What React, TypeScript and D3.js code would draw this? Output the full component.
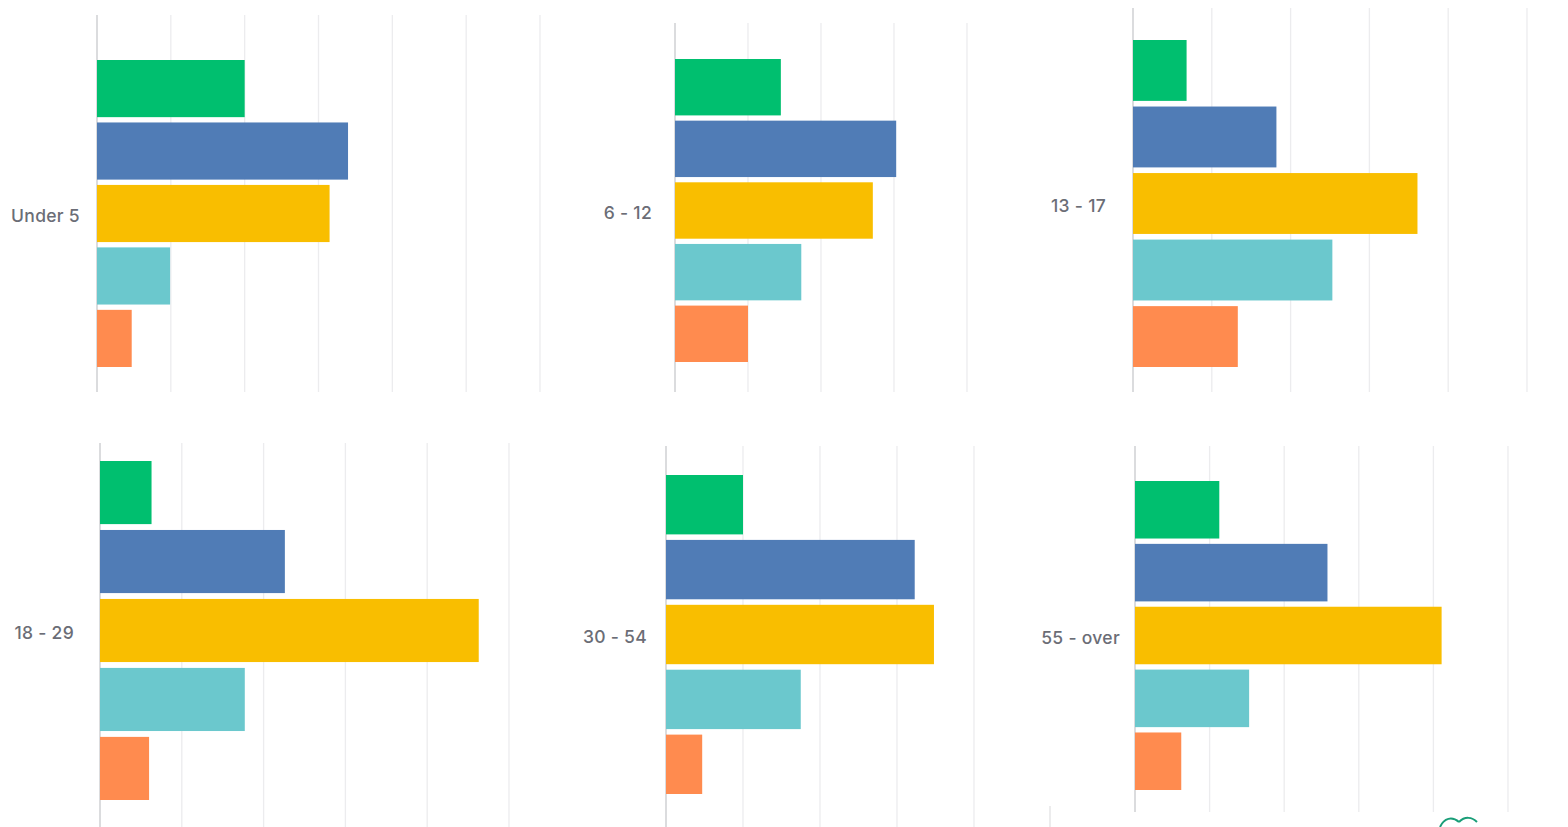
import React from "react";
import * as d3 from "d3";

// ---- data (percent of respondents) ----
const ageGroups = ["Under 5", "6 - 12", "13 - 17", "18 - 29", "30 - 54", "55 - over"];
const seriesNames = ["A", "B", "C", "D", "E"];
const seriesColors = ["#00BF6F", "#507CB6", "#F9BE00", "#6BC8CD", "#FF8B4F"];

const under5 = [20.0, 34.0, 31.5, 9.9, 4.7];
const age6to12 = [14.5, 30.3, 27.1, 17.3, 10.0];
const age13to17 = [6.8, 18.2, 36.1, 25.3, 13.3];
const age18to29 = [6.3, 22.6, 46.3, 17.7, 6.0];
const age30to54 = [10.0, 32.3, 34.8, 17.5, 4.7];
const age55over = [11.3, 25.8, 41.1, 15.3, 6.2];

const panelValues = [under5, age6to12, age13to17, age18to29, age30to54, age55over];
const panelMax = [60, 40, 50, 50, 40, 50];
const tickStep = 10;

// ---- layout (pixels) ----
const layout = [
  { x0: 97, x1: 540, gTop: 15, gBot: 392, bTop: 60, bBot: 367, lab: 17 },
  { x0: 675, x1: 967, gTop: 23, gBot: 392, bTop: 59, bBot: 362, lab: 23 },
  { x0: 1133, x1: 1527, gTop: 8, gBot: 392, bTop: 40, bBot: 367, lab: 27 },
  { x0: 100, x1: 509, gTop: 443, gBot: 827, bTop: 461, bBot: 800, lab: 26 },
  { x0: 666, x1: 974, gTop: 446, gBot: 827, bTop: 475, bBot: 794, lab: 19 },
  { x0: 1135, x1: 1508, gTop: 446, gBot: 812, bTop: 481, bBot: 790, lab: 15 },
];

function Panel({ idx }: { idx: number }) {
  const L = layout[idx];
  const vals = panelValues[idx];
  const x = d3.scaleLinear().domain([0, panelMax[idx]]).range([L.x0, L.x1]);
  const y = d3
    .scaleBand<string>()
    .domain(seriesNames)
    .range([L.bTop, L.bBot])
    .paddingInner(0.085)
    .paddingOuter(0);
  const ticks = d3.range(0, panelMax[idx] + 0.001, tickStep);
  const labelY = (L.bTop + L.bBot) / 2 + 3.5;
  return (
    <g>
      {ticks.map((t, i) => (
        <line
          key={i}
          x1={x(t)}
          x2={x(t)}
          y1={L.gTop}
          y2={L.gBot}
          stroke={i === 0 ? "#cfd0d3" : "#ececee"}
          strokeWidth={i === 0 ? 1.5 : 1.3}
        />
      ))}
      {vals.map((v, i) => (
        <rect
          key={i}
          x={x(0)}
          y={y(seriesNames[i])}
          width={x(v) - x(0)}
          height={y.bandwidth()}
          fill={seriesColors[i]}
        />
      ))}
      <text
        x={L.x0 - L.lab}
        y={labelY}
        textAnchor="end"
        dominantBaseline="middle"
        fontFamily="Inter, 'Open Sans', sans-serif"
        fontSize={17.5}
        fontWeight={500}
        letterSpacing={0.3}
        fill="#6b6d76"
      >
        {ageGroups[idx]}
      </text>
    </g>
  );
}

export default function App() {
  return (
    <svg
      width={1568}
      height={827}
      style={{ position: "absolute", left: 0, top: 0, background: "#fff" }}
    >
      <rect x={0} y={0} width={1568} height={827} fill="#fff" />
      {ageGroups.map((_, i) => (
        <Panel key={i} idx={i} />
      ))}
      <line x1={1050} x2={1050} y1={806} y2={827} stroke="#e2e2e4" strokeWidth={1.3} />
      <path
        d="M1440,827 C1444,818 1452,816 1459,822 M1459,822 C1465,816 1472,817 1477,822"
        fill="none"
        stroke="#1a9e78"
        strokeWidth={2}
      />
    </svg>
  );
}
